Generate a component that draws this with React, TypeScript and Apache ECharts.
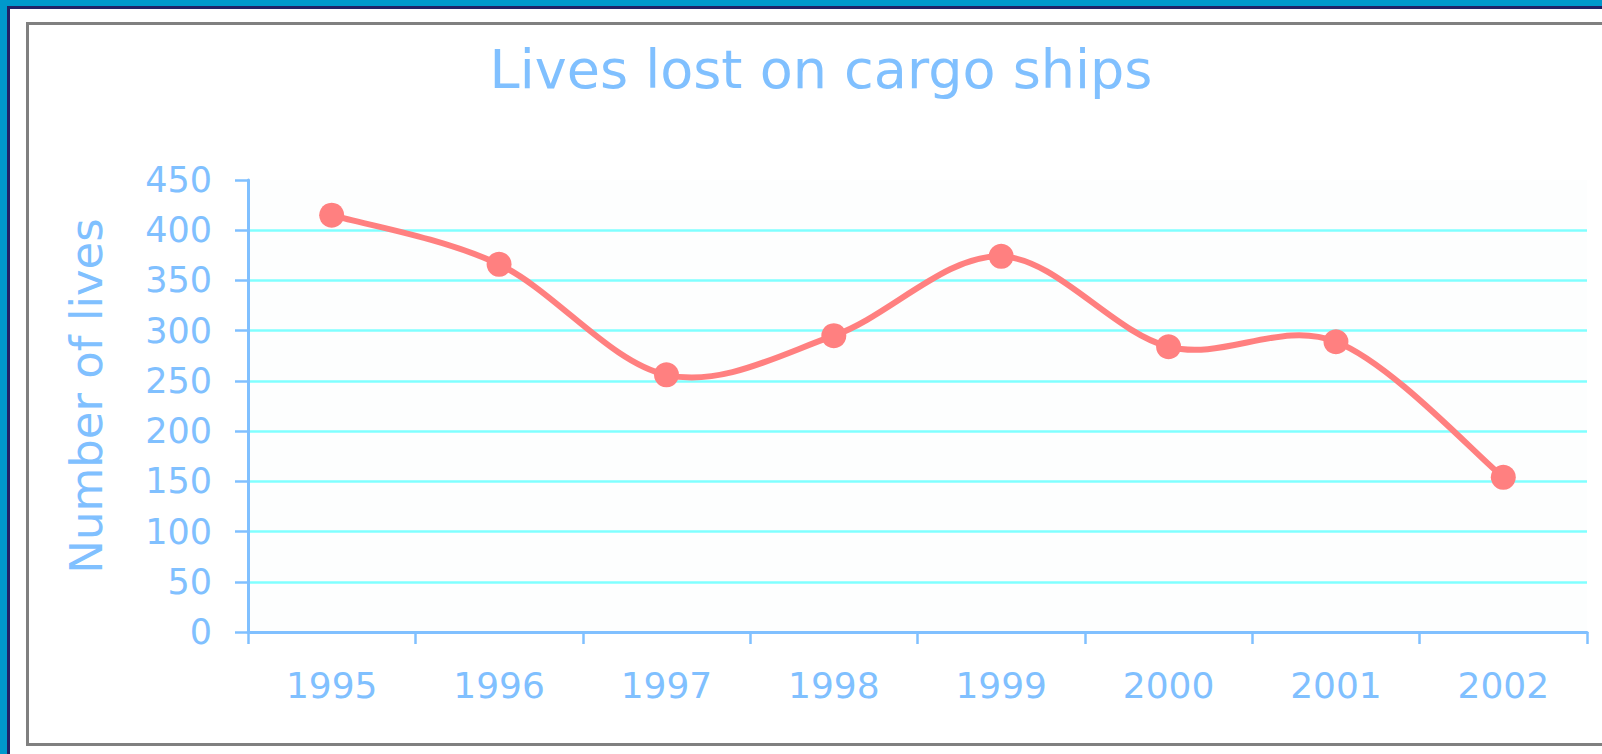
import React, { useEffect, useRef } from "react";
import * as echarts from "echarts";

const years = ["1995", "1996", "1997", "1998", "1999", "2000", "2001", "2002"];
const livesLost = [415, 366, 256, 295, 374, 284, 289, 154];
const yMin = 0;
const yMax = 450;
const yStep = 50;

const BLUE_TEXT = "#80c0ff";
const LINE_RED = "#ff8080";
const FONT = "'DejaVu Sans', Verdana, sans-serif";

function catmullRomPath(pts: number[][]): string {
  if (pts.length === 0) return "";
  let d = `M${pts[0][0]},${pts[0][1]}`;
  for (let i = 0; i < pts.length - 1; i++) {
    const p0 = pts[i === 0 ? 0 : i - 1];
    const p1 = pts[i];
    const p2 = pts[i + 1];
    const p3 = pts[i + 2 < pts.length ? i + 2 : pts.length - 1];
    const c1x = p1[0] + (p2[0] - p0[0]) / 6;
    const c1y = p1[1] + (p2[1] - p0[1]) / 6;
    const c2x = p2[0] - (p3[0] - p1[0]) / 6;
    const c2y = p2[1] - (p3[1] - p1[1]) / 6;
    d += ` C${c1x},${c1y} ${c2x},${c2y} ${p2[0]},${p2[1]}`;
  }
  return d;
}

export default function App() {
  const ref = useRef<HTMLDivElement>(null);

  useEffect(() => {
    if (!ref.current) return;
    const chart = echarts.init(ref.current, undefined, { renderer: "svg" });
    chart.setOption({
      animation: false,
      backgroundColor: "#ffffff",
      title: {
        text: "Lives lost on cargo ships",
        left: 821,
        top: 42,
        padding: 0,
        textAlign: "center",
        textStyle: {
          color: BLUE_TEXT,
          fontFamily: FONT,
          fontSize: 54,
          fontWeight: "normal",
        },
      },
      graphic: [
        { type: "rect", shape: { x: 0, y: 0, width: 1602, height: 6 }, style: { fill: "#0099cc" }, silent: true },
        { type: "rect", shape: { x: 0, y: 0, width: 7, height: 754 }, style: { fill: "#0099cc" }, silent: true },
        { type: "rect", shape: { x: 7, y: 6, width: 1595, height: 3 }, style: { fill: "#222266" }, silent: true },
        { type: "rect", shape: { x: 7, y: 6, width: 3, height: 748 }, style: { fill: "#222266" }, silent: true },
        {
          type: "rect",
          shape: { x: 27.5, y: 23.5, width: 1700, height: 721 },
          style: { fill: "none", stroke: "#808080", lineWidth: 3 },
          silent: true,
        },
      ],
      grid: {
        left: 248,
        right: 15,
        top: 180,
        bottom: 122,
        show: true,
        backgroundColor: "#fdfefe",
        borderWidth: 0,
      },
      xAxis: {
        type: "category",
        data: years,
        boundaryGap: true,
        axisLine: { show: true, lineStyle: { color: BLUE_TEXT, width: 3 } },
        axisTick: { show: true, length: 12, lineStyle: { color: BLUE_TEXT, width: 2.5 } },
        axisLabel: {
          color: BLUE_TEXT,
          fontFamily: FONT,
          fontSize: 36,
          margin: 35,
        },
        splitLine: { show: false },
      },
      yAxis: {
        type: "value",
        min: yMin,
        max: yMax,
        interval: yStep,
        name: "Number of lives",
        nameLocation: "middle",
        nameGap: 139,
        nameTextStyle: {
          color: BLUE_TEXT,
          fontFamily: FONT,
          fontSize: 45,
          padding: [0, 0, 0, 20],
        },
        axisLine: { show: true, lineStyle: { color: BLUE_TEXT, width: 3 } },
        axisTick: { show: true, length: 13, lineStyle: { color: BLUE_TEXT, width: 2.5 } },
        axisLabel: {
          color: BLUE_TEXT,
          fontFamily: FONT,
          fontSize: 35,
          margin: 36,
        },
        splitLine: {
          show: true,
          showMaxLine: false,
          showMinLine: false,
          lineStyle: { color: "#80ffff", width: 2.5 },
        },
      },
      series: [
        {
          type: "custom",
          name: "curve",
          data: [[0, livesLost[0]]],
          z: 4,
          silent: true,
          renderItem: (params: any, api: any) => {
            const pts = livesLost.map((v, i) => api.coord([i, v]));
            return {
              type: "path",
              shape: { pathData: catmullRomPath(pts) },
              style: { stroke: LINE_RED, lineWidth: 6, fill: "none" },
            };
          },
        },
        {
          type: "line",
          name: "Lives lost",
          data: livesLost,
          symbol: "circle",
          symbolSize: 25,
          lineStyle: { color: LINE_RED, width: 0, opacity: 0 },
          itemStyle: { color: LINE_RED },
          z: 5,
        },
      ],
    });
    return () => chart.dispose();
  }, []);

  return (
    <div
      ref={ref}
      style={{ position: "fixed", left: 0, top: 0, width: 1602, height: 754 }}
    />
  );
}
